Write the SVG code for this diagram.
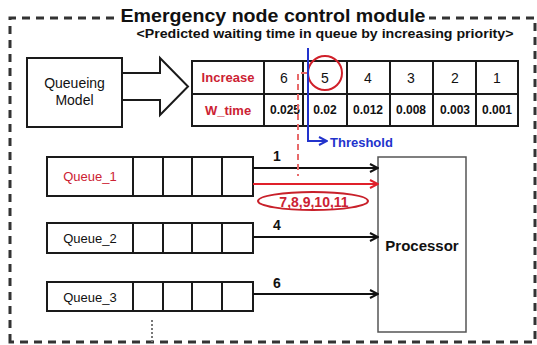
<svg xmlns="http://www.w3.org/2000/svg" width="537" height="345" viewBox="0 0 537 345">
<defs>
<style>
text{font-family:"Liberation Sans",Arial,sans-serif;fill:#111}
.b{font-weight:bold}
.red{fill:#cc2233}
.box{fill:#fff;stroke:#1a1a1a;stroke-width:2}
.cell{fill:none;stroke:#1a1a1a;stroke-width:2}
.conn{fill:none;stroke:#111;stroke-width:2}
</style>
<marker id="ah" viewBox="0 0 10 10" refX="9" refY="5" markerWidth="10" markerHeight="10" markerUnits="userSpaceOnUse" orient="auto">
<path d="M1,1 L9,5 L1,9" fill="none" stroke="#111" stroke-width="2"/>
</marker>
<marker id="ahr" viewBox="0 0 10 10" refX="9" refY="5" markerWidth="10" markerHeight="10" markerUnits="userSpaceOnUse" orient="auto">
<path d="M1,1 L9,5 L1,9" fill="none" stroke="#e0202a" stroke-width="2"/>
</marker>
<marker id="ahb" viewBox="0 0 10 10" refX="9" refY="5" markerWidth="10" markerHeight="10" markerUnits="userSpaceOnUse" orient="auto">
<path d="M1,1 L9,5 L1,9" fill="none" stroke="#2233cc" stroke-width="2"/>
</marker>
</defs>
<rect width="537" height="345" fill="#fff"/>
<g id="module-border">
<path d="M10,342 V18 H535 V342 Z" fill="none" stroke="#333" stroke-width="3" stroke-dasharray="8 6"/>
<rect x="119" y="5" width="310" height="21" fill="#fff"/>
<text x="273" y="22" text-anchor="middle" class="b" font-size="19" textLength="305" lengthAdjust="spacingAndGlyphs">Emergency node control module</text>
<text x="325" y="38" text-anchor="middle" class="b" font-size="12" textLength="377" lengthAdjust="spacingAndGlyphs">&lt;Predicted waiting time in queue by increasing priority&gt;</text>
</g>
<g id="queueing-model">
<rect x="27" y="58" width="95" height="69" class="box"/>
<text x="74.5" y="88" text-anchor="middle" font-size="14">Queueing</text>
<text x="74.5" y="105" text-anchor="middle" font-size="14">Model</text>
</g>
<g id="big-arrow">
<polygon points="122,73 160,73 160,58 188,86.5 160,115 160,100 122,100" fill="#fff" stroke="#1a1a1a" stroke-width="2"/>
</g>
<g id="priority-table">
<rect x="192" y="61" width="326" height="65" class="cell"/>
<line x1="192" y1="94" x2="518" y2="94" class="cell"/>
<line x1="264" y1="61" x2="264" y2="126" class="cell"/>
<line x1="303" y1="61" x2="303" y2="126" class="cell"/>
<line x1="347" y1="61" x2="347" y2="126" class="cell"/>
<line x1="390" y1="61" x2="390" y2="126" class="cell"/>
<line x1="433" y1="61" x2="433" y2="126" class="cell"/>
<line x1="476" y1="61" x2="476" y2="126" class="cell"/>
<text x="228" y="82" text-anchor="middle" class="b red" font-size="13">Increase</text>
<text x="228" y="115" text-anchor="middle" class="b red" font-size="13">W_time</text>
<g font-size="14" text-anchor="middle">
<text x="284" y="83">6</text>
<text x="325" y="83">5</text>
<text x="368" y="83">4</text>
<text x="411" y="83">3</text>
<text x="455" y="83">2</text>
<text x="497" y="83">1</text>
</g>
<g font-size="12" text-anchor="middle">
<text x="285" y="114" class="b">0.025</text>
<text x="325" y="114" class="b">0.02</text>
<text x="368" y="114" class="b">0.012</text>
<text x="411" y="114" class="b">0.008</text>
<text x="455" y="114" class="b">0.003</text>
<text x="497" y="114" class="b">0.001</text>
</g>
<circle cx="325" cy="73" r="17" fill="none" stroke="#d0202a" stroke-width="2"/>
</g>
<g id="threshold">
<path d="M308,48 V141 H327" fill="none" stroke="#2233cc" stroke-width="2" marker-end="url(#ahb)"/>
<text x="330" y="147" class="b" font-size="13" style="fill:#2233cc">Threshold</text>
</g>
<g id="queue_1">
<rect x="47" y="157" width="206" height="39" class="box"/>
<path d="M133,157 V196 M163,157 V196 M192,157 V196 M222,157 V196" class="cell"/>
<text x="90" y="181" text-anchor="middle" class="red" font-size="13">Queue_1</text>
</g>
<g id="queue_2">
<rect x="47" y="223" width="206" height="30" class="box"/>
<path d="M133,223 V253 M163,223 V253 M192,223 V253 M222,223 V253" class="cell"/>
<text x="90" y="243" text-anchor="middle" font-size="13">Queue_2</text>
</g>
<g id="queue_3">
<rect x="47" y="282" width="206" height="29" class="box"/>
<path d="M133,282 V311 M163,282 V311 M192,282 V311 M222,282 V311" class="cell"/>
<text x="90" y="302" text-anchor="middle" font-size="13">Queue_3</text>
</g>
<g id="processor">
<rect x="378" y="157" width="88" height="175" fill="#fff" stroke="#555" stroke-width="1.5"/>
<text x="422" y="251" text-anchor="middle" class="b" font-size="15">Processor</text>
</g>
<g id="connectors">
<line x1="253" y1="168" x2="378" y2="168" class="conn" marker-end="url(#ah)"/>
<line x1="253" y1="184" x2="378" y2="184" fill="none" stroke="#e0202a" stroke-width="2" marker-end="url(#ahr)"/>
<line x1="253" y1="237" x2="378" y2="237" class="conn" marker-end="url(#ah)"/>
<line x1="253" y1="294" x2="378" y2="294" class="conn" marker-end="url(#ah)"/>
<path d="M307,73 H298 V176" fill="none" stroke="#e86a6a" stroke-width="2" stroke-dasharray="6 4"/>
<line x1="152" y1="320" x2="152" y2="342" stroke="#777" stroke-width="2" stroke-dasharray="2 2"/>
<text x="277" y="161" text-anchor="middle" class="b" font-size="14">1</text>
<text x="277" y="230" text-anchor="middle" class="b" font-size="14">4</text>
<text x="277" y="288" text-anchor="middle" class="b" font-size="14">6</text>
<ellipse cx="313" cy="201" rx="55" ry="9" fill="none" stroke="#c8202a" stroke-width="2"/>
<text x="314" y="207" text-anchor="middle" class="b red" font-size="14">7,8,9,10,11</text>
</g>
</svg>
